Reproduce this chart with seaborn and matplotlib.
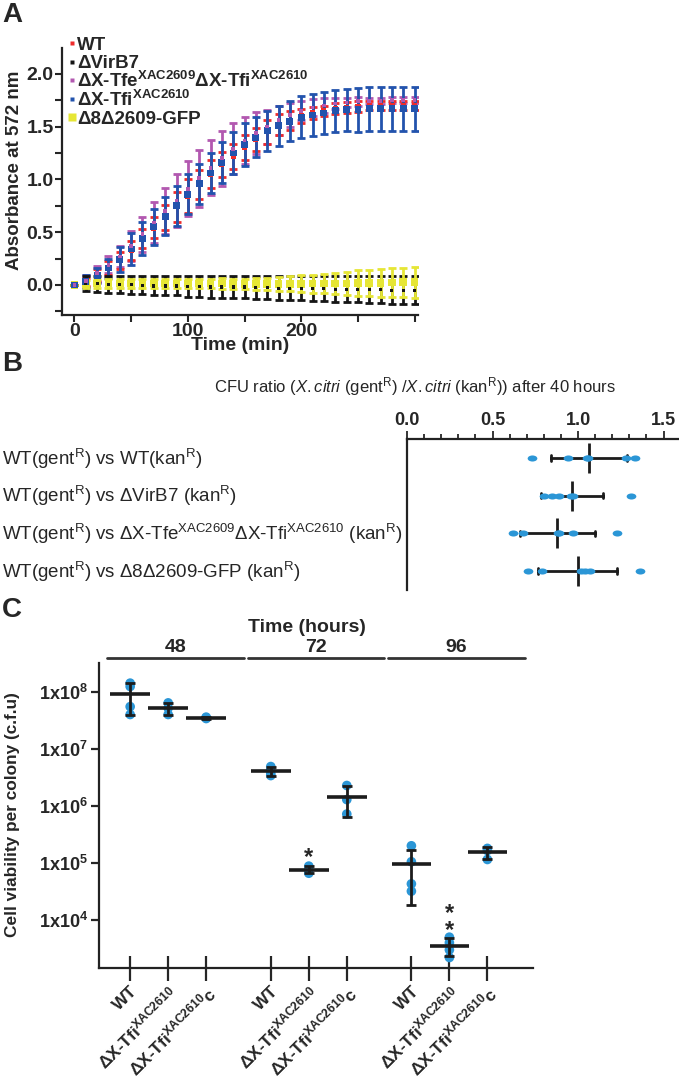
import numpy as np
import pandas as pd
import matplotlib
matplotlib.use("Agg")
import matplotlib.pyplot as plt
import matplotlib.transforms as mtrans
from matplotlib.lines import Line2D
from matplotlib.path import Path
from matplotlib.ticker import FixedLocator, NullLocator
import seaborn as sns

sns.set_theme(style="ticks")
plt.rcParams["font.family"] = ["Liberation Sans", "DejaVu Sans"]
plt.rcParams["mathtext.fontset"] = "custom"
plt.rcParams["mathtext.rm"] = "Liberation Sans"
plt.rcParams["mathtext.it"] = "Liberation Sans:italic"
plt.rcParams["mathtext.bf"] = "Liberation Sans:bold"
plt.rcParams["axes.linewidth"] = 1.6
plt.rcParams["axes.edgecolor"] = "#222222"

# ---- Panel A: absorbance growth curves (mean, SD) ----
time_min = [0, 10, 20, 30, 40, 50, 60, 70, 80, 90, 100, 110, 120, 130, 140, 150,
            160, 170, 180, 190, 200, 210, 220, 230, 240, 250, 260, 270, 280, 290, 300]
wt_mean = [0.00, 0.03, 0.09, 0.16, 0.23, 0.33, 0.44, 0.54, 0.64, 0.74, 0.84, 0.95, 1.05, 1.14, 1.22, 1.30,
           1.38, 1.45, 1.52, 1.56, 1.60, 1.63, 1.65, 1.67, 1.68, 1.69, 1.70, 1.70, 1.70, 1.70, 1.70]
wt_sd = [0.00, 0.04, 0.06, 0.07, 0.08, 0.09, 0.09, 0.10, 0.12, 0.14, 0.16, 0.14, 0.13, 0.12, 0.12, 0.12,
         0.11, 0.11, 0.10, 0.09, 0.07, 0.06, 0.05, 0.05, 0.05, 0.05, 0.045, 0.045, 0.045, 0.045, 0.045]
virb7_mean = [0.00, 0.015, 0.01, 0.005, 0.0, 0.0, -0.005, -0.01, -0.01, -0.01, -0.015, -0.015, -0.02, -0.02, -0.02, -0.02,
              -0.025, -0.025, -0.03, -0.03, -0.03, -0.035, -0.035, -0.04, -0.04, -0.04, -0.045, -0.045, -0.05, -0.05, -0.05]
virb7_sd = [0.0, 0.07, 0.075, 0.08, 0.08, 0.085, 0.085, 0.09, 0.09, 0.09, 0.095, 0.095, 0.1, 0.1, 0.1, 0.1,
            0.105, 0.105, 0.11, 0.11, 0.11, 0.115, 0.115, 0.12, 0.12, 0.12, 0.125, 0.125, 0.13, 0.13, 0.135]
double_mean = [0.00, 0.04, 0.11, 0.19, 0.27, 0.37, 0.48, 0.59, 0.70, 0.80, 0.91, 1.01, 1.11, 1.20, 1.29, 1.37,
               1.44, 1.50, 1.56, 1.61, 1.65, 1.68, 1.70, 1.72, 1.73, 1.74, 1.74, 1.74, 1.75, 1.75, 1.75]
double_sd = [0.00, 0.055, 0.07, 0.08, 0.10, 0.14, 0.165, 0.195, 0.22, 0.25, 0.26, 0.27, 0.26, 0.26, 0.24, 0.22,
             0.195, 0.16, 0.14, 0.11, 0.09, 0.08, 0.07, 0.05, 0.04, 0.04, 0.03, 0.03, 0.03, 0.03, 0.03]
tfi_mean = [0.00, 0.03, 0.09, 0.16, 0.24, 0.34, 0.44, 0.55, 0.65, 0.75, 0.86, 0.96, 1.06, 1.16, 1.25, 1.33,
            1.40, 1.46, 1.51, 1.55, 1.59, 1.61, 1.63, 1.65, 1.66, 1.66, 1.67, 1.67, 1.67, 1.67, 1.67]
tfi_sd = [0.00, 0.06, 0.07, 0.09, 0.12, 0.15, 0.16, 0.17, 0.18, 0.19, 0.19, 0.19, 0.19, 0.19, 0.20, 0.20,
          0.19, 0.19, 0.19, 0.19, 0.20, 0.20, 0.20, 0.20, 0.20, 0.21, 0.21, 0.21, 0.21, 0.21, 0.21]
gfp_mean = [0.0, 0.01, 0.015, 0.015, 0.015, 0.015, 0.015, 0.015, 0.015, 0.012, 0.012, 0.012, 0.012, 0.012, 0.01, 0.01,
            0.01, 0.01, 0.01, 0.01, 0.01, 0.012, 0.012, 0.015, 0.015, 0.018, 0.02, 0.02, 0.022, 0.025, 0.025]
gfp_sd = [0.0, 0.04, 0.045, 0.045, 0.045, 0.045, 0.045, 0.045, 0.045, 0.045, 0.045, 0.045, 0.045, 0.05, 0.05, 0.05,
          0.055, 0.06, 0.065, 0.07, 0.08, 0.085, 0.09, 0.10, 0.11, 0.12, 0.125, 0.13, 0.135, 0.14, 0.145]

# ---- Panel B: CFU ratios after 40 h ----
b_keys = ["wt", "virb7", "double", "gfp"]
b_labels = [r"WT(gent$^{\mathrm{R}}$) vs WT(kan$^{\mathrm{R}}$)",
            r"WT(gent$^{\mathrm{R}}$) vs ΔVirB7 (kan$^{\mathrm{R}}$)",
            r"WT(gent$^{\mathrm{R}}$) vs ΔX-Tfe$^{\mathrm{XAC2609}}$ΔX-Tfi$^{\mathrm{XAC2610}}$ (kan$^{\mathrm{R}}$)",
            r"WT(gent$^{\mathrm{R}}$) vs Δ8Δ2609-GFP (kan$^{\mathrm{R}}$)"]
ratio_wt = [0.73, 0.94, 1.05, 1.06, 1.28, 1.33]
ratio_virb7 = [0.80, 0.85, 0.89, 0.96, 0.97, 1.31]
ratio_double = [0.62, 0.68, 0.88, 0.89, 0.97, 1.23]
ratio_gfp = [0.71, 0.79, 1.02, 1.04, 1.07, 1.36]

# ---- Panel C: cell viability per colony ----
c_times = ["48", "72", "96"]
c_strains = ["WT", r"ΔX-Tfi$^{\mathbf{XAC2610}}$", r"ΔX-Tfi$^{\mathbf{XAC2610}}$c"]
wt_48 = [1.42e8, 1.24e8, 5.5e7, 4.0e7]
tfi_48 = [6.4e7, 5.2e7, 4.0e7]
tfic_48 = [3.6e7, 3.5e7, 3.4e7]
wt_72 = [4.9e6, 4.3e6, 3.7e6, 3.4e6]
tfi_72 = [8.8e4, 7.6e4, 6.6e4]
tfic_72 = [2.28e6, 1.29e6, 7.2e5]
wt_96 = [2.0e5, 1.05e5, 4.3e4, 3.2e4]
tfi_96 = [5.0e3, 4.0e3, 3.0e3, 2.2e3]
tfic_96 = [1.8e5, 1.65e5, 1.15e5]

red = "#ee2b2b"
black = "#151515"
purple = "#b258b0"
blue = "#2253ad"
yellow = "#e6e635"
dot_blue = "#2b96d6"
line_black = "#1c1c1c"

W, H = 679, 1078
fig = plt.figure(figsize=(W / 100, H / 100), dpi=100)


def fpos(x, y):
    return x / W, 1 - y / H


def box(x0, y0, x1, y1):
    return [x0 / W, 1 - y1 / H, (x1 - x0) / W, (y1 - y0) / H]


# ================= Panel A =================
ax_a = fig.add_axes(box(62, 48, 418, 315))
for mean, sd, col in [(double_mean, double_sd, purple), (wt_mean, wt_sd, red), (tfi_mean, tfi_sd, blue),
                      (virb7_mean, virb7_sd, black), (gfp_mean, gfp_sd, yellow)]:
    ax_a.errorbar(time_min, mean, yerr=sd, fmt="none", ecolor=col, elinewidth=2, capsize=3, capthick=2)

sns.scatterplot(x=time_min, y=wt_mean, marker="s", s=14, color=red, edgecolor="none", ax=ax_a, zorder=4)
sns.scatterplot(x=time_min, y=tfi_mean, marker="s", s=24, color=blue, edgecolor="none", ax=ax_a, zorder=5)
sns.scatterplot(x=time_min, y=double_mean, marker="s", s=7, color=purple, edgecolor="none", ax=ax_a, zorder=6)
sns.scatterplot(x=time_min, y=gfp_mean, marker="s", s=30, color=yellow, edgecolor="none", ax=ax_a, zorder=4)
sns.scatterplot(x=time_min, y=virb7_mean, marker="s", s=5, color=black, edgecolor="none", ax=ax_a, zorder=5)

ax_a.set_xlim(-11, 303)
ax_a.set_ylim(-0.285, 2.245)
ax_a.set_xticks([0, 100, 200])
ax_a.set_xticks([50, 150, 250, 300], minor=True)
ax_a.set_yticks([0, 0.5, 1.0, 1.5, 2.0])
ax_a.set_yticklabels(["0.0", "0.5", "1.0", "1.5", "2.0"])
ax_a.set_yticks([-0.25, 0.25, 0.75, 1.25, 1.75], minor=True)
ax_a.tick_params(which="both", direction="out", width=1.5, length=5, labelsize=14, pad=1)
for lab in ax_a.get_xticklabels() + ax_a.get_yticklabels():
    lab.set_fontweight("bold")
ax_a.set_xlabel("")
ax_a.set_ylabel("")
sns.despine(ax=ax_a)

fig.text(*fpos(240, 345), "Time (min)", ha="center", va="center", fontsize=14, fontweight="bold")
fig.text(*fpos(15, 170), "Absorbance at 572 nm", ha="center", va="center", rotation=90,
         fontsize=13.5, fontweight="bold")

legend_items = [("WT", red, 3.2),
                ("ΔVirB7", black, 3.2),
                (r"ΔX-Tfe$^{\mathbf{XAC2609}}$ΔX-Tfi$^{\mathbf{XAC2610}}$", purple, 3.2),
                (r"ΔX-Tfi$^{\mathbf{XAC2610}}$", blue, 3.2),
                ("Δ8Δ2609-GFP", yellow, 5.8)]
for i, (lab, col, ms) in enumerate(legend_items):
    yc = 43.3 + 18.5 * i
    fig.add_artist(Line2D([72 / W], [1 - yc / H], marker="s", ms=ms, color=col, mec="none",
                          transform=fig.transFigure))
    fig.text(77 / W, 1 - (yc + 6.7) / H, lab, ha="left", va="baseline", fontsize=13.5, fontweight="bold")

# ================= Panel B =================
ax_b = fig.add_axes(box(407, 439, 679, 590))
b_ratios = [ratio_wt, ratio_virb7, ratio_double, ratio_gfp]
df_b = pd.DataFrame({
    "pair": [k for k, vals in zip(b_keys, b_ratios) for _ in vals],
    "ratio": [v for vals in b_ratios for v in vals],
})
circ = Path.unit_circle()
ellipse = Path(circ.vertices * [1.6, 1.0], circ.codes)

sns.pointplot(data=df_b, x="ratio", y="pair", order=b_keys, orient="h", errorbar="sd",
              color=line_black, markers="|", markersize=22, markeredgewidth=2, linestyle="none",
              capsize=0.14, err_kws={"linewidth": 2}, ax=ax_b)
sns.stripplot(data=df_b, x="ratio", y="pair", order=b_keys, orient="h", jitter=False,
              color=dot_blue, marker=ellipse, size=7, linewidth=0, ax=ax_b, zorder=5)

ax_b.set_xlim(0, 1.59)
ax_b.set_ylim(3.5, -0.5)
ax_b.xaxis.tick_top()
ax_b.set_xticks([0, 0.5, 1.0, 1.5])
ax_b.set_xticklabels(["0.0", "0.5", "1.0", "1.5"])
ax_b.set_xticks([0.1, 0.2, 0.3, 0.4, 0.6, 0.7, 0.8, 0.9, 1.1, 1.2, 1.3, 1.4], minor=True)
ax_b.tick_params(axis="x", which="both", top=True, bottom=False, direction="out", width=1.3,
                 labelsize=13, pad=1)
ax_b.tick_params(axis="x", which="major", length=6)
ax_b.tick_params(axis="x", which="minor", length=3.5)
ax_b.tick_params(axis="y", left=False, labelleft=False)
for lab in ax_b.get_xticklabels():
    lab.set_fontweight("bold")
ax_b.set_xlabel("")
ax_b.set_ylabel("")
ax_b.spines["bottom"].set_visible(False)
ax_b.spines["right"].set_visible(False)

row_tr = mtrans.blended_transform_factory(fig.transFigure, ax_b.transData) + \
    mtrans.ScaledTranslation(0, -6.7 / 100, fig.dpi_scale_trans)
for i, lab in enumerate(b_labels):
    fig.text(2 / W, i, lab, transform=row_tr, ha="left", va="baseline", fontsize=13.5)

fig.text(*fpos(415, 387),
         r"CFU ratio ($\mathit{X.citri}$ (gent$^{\mathrm{R}}$) /$\mathit{X.citri}$ (kan$^{\mathrm{R}}$)) after 40 hours",
         ha="center", va="center", fontsize=12)

# ================= Panel C =================
ax_c = fig.add_axes(box(99, 663, 533, 968))
gap = 3.7
c_groups = {"48": [wt_48, tfi_48, tfic_48], "72": [wt_72, tfi_72, tfic_72], "96": [wt_96, tfi_96, tfic_96]}
rows = []
for gi, t in enumerate(c_times):
    for si, vals in enumerate(c_groups[t]):
        for v in vals:
            rows.append({"time": t, "strain": si, "pos": gi * gap + si, "cfu": v})
df_c = pd.DataFrame(rows)

sns.scatterplot(data=df_c, x="pos", y="cfu", color=dot_blue, s=48, edgecolor="none",
                ax=ax_c, zorder=2, legend=False)
ax_c.set_yscale("log")
stats = df_c.groupby("pos")["cfu"].agg(["mean", "std"]).reset_index()
ax_c.errorbar(stats["pos"], stats["mean"], yerr=stats["std"], fmt="none", ecolor=line_black,
              elinewidth=2, capsize=3.5, capthick=2, zorder=3)
ax_c.hlines(stats["mean"], stats["pos"] - 0.52, stats["pos"] + 0.52, colors=line_black,
            linewidth=2.6, zorder=4)

ax_c.set_xlim(-0.82, 10.6)
ax_c.set_ylim(1.44e3, 3.2e8)
ax_c.yaxis.set_major_locator(FixedLocator([1e4, 1e5, 1e6, 1e7, 1e8]))
ax_c.yaxis.set_minor_locator(NullLocator())
ax_c.set_yticklabels([r"$\mathbf{1x10^{4}}$", r"$\mathbf{1x10^{5}}$", r"$\mathbf{1x10^{6}}$",
                      r"$\mathbf{1x10^{7}}$", r"$\mathbf{1x10^{8}}$"])
ax_c.set_xticks(stats["pos"])
ax_c.set_xticklabels(c_strains * len(c_times))
ax_c.tick_params(axis="x", direction="inout", length=18, width=1.6, pad=2)
ax_c.tick_params(axis="y", direction="out", length=6, width=1.6, labelsize=13, pad=2)
for lab in ax_c.get_xticklabels():
    lab.set(rotation=45, ha="right", rotation_mode="anchor", fontweight="bold", fontsize=12.5)
ax_c.set_xlabel("")
ax_c.set_ylabel("")
sns.despine(ax=ax_c)

# significance marks
ax_c.text(1 * gap + 1, 9.7e4, "*", ha="center", va="baseline", fontsize=17, fontweight="bold")
ax_c.text(2 * gap + 1, 5.1e3, "*\n*", ha="center", va="baseline", fontsize=17, fontweight="bold",
          linespacing=0.62)

# time group headers
grp_tr = mtrans.blended_transform_factory(ax_c.transData, ax_c.transAxes)
for gi, t in enumerate(c_times):
    cx = gi * gap + 1 + 0.19
    ax_c.plot([cx - 1.8, cx + 1.8], [1.016, 1.016], transform=grp_tr, clip_on=False,
              color="#333333", linewidth=2)
    ax_c.text(cx, 1.05, t, transform=grp_tr, ha="center", va="center", fontsize=14, fontweight="bold")
fig.text(*fpos(307, 627), "Time (hours)", ha="center", va="center", fontsize=14, fontweight="bold")
fig.text(*fpos(13, 815), "Cell viability per colony (c.f.u)", ha="center", va="center",
         rotation=90, fontsize=12.4, fontweight="bold")

# panel letters
for letter, y in [("A", 15), ("B", 364), ("C", 610)]:
    fig.text(*fpos(2, y), letter, ha="left", va="center", fontsize=20, fontweight="bold")

fig.savefig("out.png", dpi=100)
